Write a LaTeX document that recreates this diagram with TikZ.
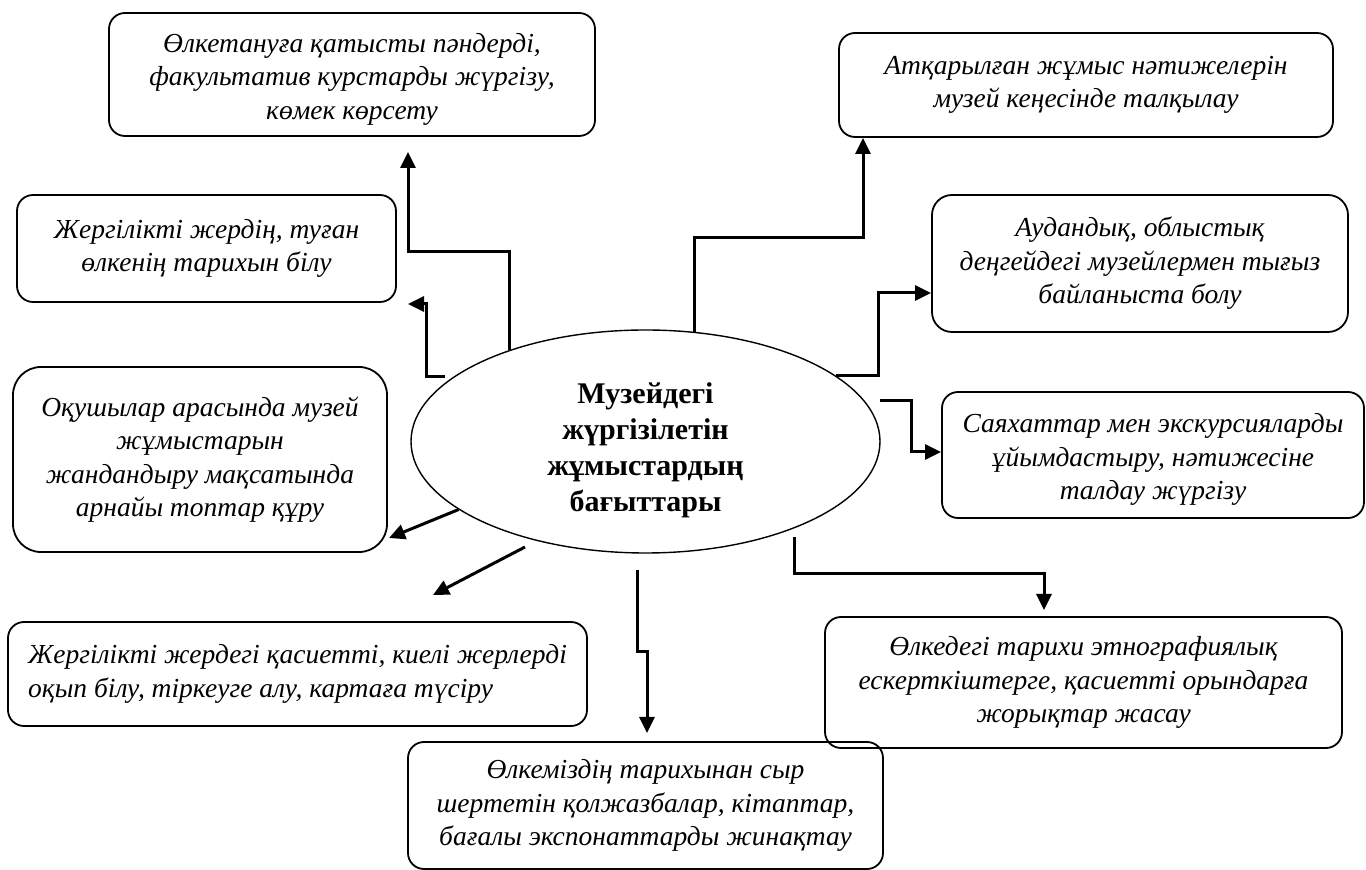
\documentclass[tikz,border=0pt]{standalone}
\usepackage{fontspec}
\setmainfont{Liberation Serif}
\usetikzlibrary{arrows.meta, shapes.geometric}

\tikzset{
  block/.style={draw, line width=0.9pt, rounded corners=8pt, align=center, inner sep=2pt,
    font=\fontsize{13.75}{16.75}\selectfont\itshape},
  oval/.style={ellipse, draw, line width=0.7pt, inner sep=0pt, align=center,
    font=\fontsize{15}{18}\selectfont\bfseries},
  conn/.style={line width=1.5pt, -{Triangle[length=8pt, width=7.5pt]}}
}

\begin{document}
\begin{tikzpicture}[x=0.5pt, y=-0.5pt]
\useasboundingbox (0,0) rectangle (1366,870);

% centre
\node[oval, minimum width=234.5pt, minimum height=111.5pt] (hub) at (645.5,441.5)
  {\rule{0pt}{19pt}Музейдегі\\ жүргізілетін\\ жұмыстардың\\ бағыттары};

% left side
\node[block, minimum width=243pt, minimum height=61.5pt] (olketanu) at (352,74.5)
  {\rule{0pt}{14pt}Өлкетануға қатысты пәндерді,\\ факультатив курстарды жүргізу,\\ көмек көрсету};
\node[block, minimum width=189.5pt, minimum height=53.5pt] (tarih) at (206.5,248.5)
  {Жергілікті жердің, туған\\ өлкенің тарихын білу};
\node[block, rounded corners=14pt, minimum width=187pt, minimum height=92.5pt] (toptar) at (200,459.5)
  {Оқушылар арасында музей\\ жұмыстарын\\ жандандыру мақсатында\\ арнайы топтар құру};
\node[block, align=left, minimum width=289.5pt, minimum height=52pt] (kieli) at (297.5,674)
  {Жергілікті жердегі қасиетті, киелі жерлерді\\ оқып білу, тіркеуге алу, картаға түсіру};
\node[block, minimum width=237.5pt, minimum height=63.5pt] (jinaqtau) at (645.5,805.5)
  {Өлкеміздің тарихынан сыр\\ шертетін қолжазбалар, кітаптар,\\ бағалы экспонаттарды жинақтау};

% right side
\node[block, minimum width=247pt, minimum height=52pt] (kenes) at (1086,85)
  {Атқарылған жұмыс нәтижелерін\\ музей кеңесінде талқылау};
\node[block, rounded corners=10pt, minimum width=208pt, minimum height=68.5pt] (baylanys) at (1140,263.5)
  {Аудандық, облыстық\\ деңгейдегі музейлермен тығыз\\ байланыста болу};
\node[block, minimum width=211pt, minimum height=63pt] (sayahat) at (1153,455)
  {\rule{0pt}{14pt}Саяхаттар мен экскурсияларды\\ ұйымдастыру, нәтижесіне\\ талдау жүргізу};
\node[block, minimum width=258.5pt, minimum height=65.5pt] (joryq) at (1083.5,682.5)
  {Өлкедегі тарихи этнографиялық\\ ескерткіштерге, қасиетті орындарға\\ жорықтар жасау};

% free ends
\coordinate (t1) at (408,152);
\coordinate (s2) at (445,377);
\coordinate (t2) at (408,304);
\coordinate (t3) at (389,538);
\coordinate (s4) at (525,547);
\coordinate (t4) at (433,595);
\coordinate (s5) at (637,570);
\coordinate (t5) at (647,733);
\coordinate (s6) at (794,537);
\coordinate (t6) at (1044,610);
\coordinate (s7) at (880,401);
\coordinate (t7) at (941,452);
\coordinate (t8) at (931,293);
\coordinate (t9) at (863,138);

\draw[conn] (hub.146.5) |- (408,252) -- (t1);
\draw[conn] (s2) -| (426,304) -- (t2);
\draw[conn] (hub.200.4) -- (t3);
\draw[conn] (s4) -- (t4);
\draw[conn] (s5) |- (647,652) -- (t5);
\draw[conn] (s6) |- (1044,574) -- (t6);
\draw[conn] (s7) -| (911,452) -- (t7);
\draw[conn] (hub.19.85) -| (878,293) -- (t8);
\draw[conn] (hub.66.7) |- (863,238) -- (t9);
\end{tikzpicture}
\end{document}
